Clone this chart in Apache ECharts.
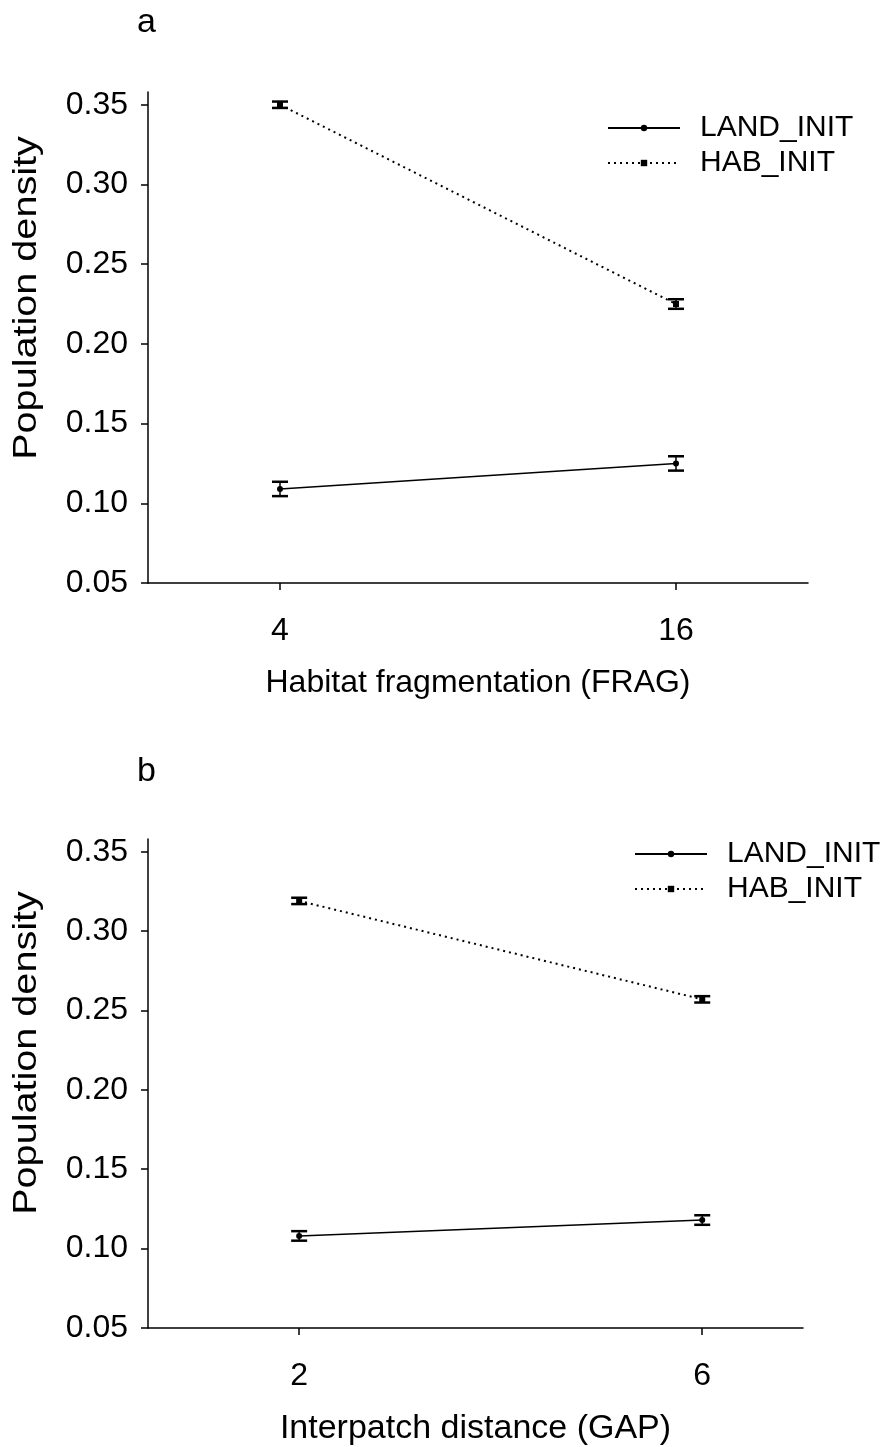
<!DOCTYPE html>
<html>
<head>
<meta charset="utf-8">
<script src="https://cdn.jsdelivr.net/npm/echarts/dist/echarts.min.js"></script>
<style>
  html, body { margin: 0; padding: 0; background: #fff; }
  #main { width: 892px; height: 1447px; }
</style>
</head>
<body>
<div id="main"></div>
<script>
// panel a : habitat fragmentation
var fragX = [4, 16];
var landA = [0.109, 0.125];
var landAErr = [0.0045, 0.0045];
var habA = [0.350, 0.225];
var habAErr = [0.002, 0.003];

// panel b : interpatch distance
var gapX = [2, 6];
var landB = [0.108, 0.118];
var landBErr = [0.003, 0.003];
var habB = [0.319, 0.257];
var habBErr = [0.002, 0.002];

var yTicks = [0.05, 0.10, 0.15, 0.20, 0.25, 0.30, 0.35];

var FONT = 'Liberation Sans, Arial, sans-serif';

function pts(xs, ys) {
  return xs.map(function (x, i) { return [x, ys[i]]; });
}
function errs(xs, ys, es) {
  return xs.map(function (x, i) { return [x, ys[i] - es[i], ys[i] + es[i]]; });
}

function errRender(params, api) {
  var x = api.value(0);
  var lo = api.coord([x, api.value(1)]);
  var hi = api.coord([x, api.value(2)]);
  var w = 8;
  var st = { stroke: '#000', lineWidth: 2.5 };
  return {
    type: 'group',
    children: [
      { type: 'line', shape: { x1: lo[0], y1: lo[1], x2: hi[0], y2: hi[1] }, style: { stroke: '#000', lineWidth: 1.5 } },
      { type: 'line', shape: { x1: lo[0] - w, y1: lo[1], x2: lo[0] + w, y2: lo[1] }, style: st },
      { type: 'line', shape: { x1: hi[0] - w, y1: hi[1], x2: hi[0] + w, y2: hi[1] }, style: st }
    ]
  };
}

function xAxisCfg(idx, min, max, ticks, name, nameSize) {
  return {
    gridIndex: idx, type: 'value', min: min, max: max,
    name: name, nameLocation: 'middle', nameGap: 84,
    nameTextStyle: { color: '#000', fontSize: nameSize, fontFamily: FONT },
    axisLine: { lineStyle: { color: '#000', width: 1.5 } },
    axisTick: { length: 7, customValues: ticks, lineStyle: { color: '#000', width: 1.5 } },
    axisLabel: { customValues: ticks, margin: 32, color: '#000', fontSize: 32, fontFamily: FONT },
    splitLine: { show: false }
  };
}
function yAxisCfg(idx) {
  return {
    gridIndex: idx, type: 'value', min: 0.05, max: 0.358,
    axisLine: { show: true, lineStyle: { color: '#000', width: 1.5 } },
    axisTick: { show: true, length: 7, customValues: yTicks, lineStyle: { color: '#000', width: 1.5 } },
    axisLabel: {
      customValues: yTicks, margin: 20, color: '#000', fontSize: 32, fontFamily: FONT,
      formatter: function (v) { return v.toFixed(2); }
    },
    splitLine: { show: false }
  };
}

function lineSeries(name, idx, data, sym, dotted) {
  return {
    name: name, type: 'line', xAxisIndex: idx, yAxisIndex: idx,
    data: data, symbol: sym, symbolSize: 6,
    itemStyle: { color: '#000' },
    lineStyle: { color: '#000', width: dotted ? 2 : 1.5, type: dotted ? [2, 4] : 'solid' },
    z: 3, animation: false
  };
}

function legendCfg(left, top) {
  return {
    orient: 'vertical', left: left, top: top, itemWidth: 72, itemHeight: 8, itemGap: 5,
    data: ['LAND_INIT', 'HAB_INIT'],
    textStyle: { color: '#000', fontSize: 30, fontFamily: FONT, padding: [0, 0, 0, 15] }
  };
}

function yTitle(y) {
  return {
    type: 'text', x: 27, y: y, rotation: Math.PI / 2, scaleX: 1.2,
    style: { text: 'Population density', fill: '#000', font: '33px ' + FONT, textAlign: 'center', textVerticalAlign: 'middle' }
  };
}

var chart = echarts.init(document.getElementById('main'));
chart.setOption({
  backgroundColor: '#fff',
  animation: false,
  title: [
    { text: 'a', left: 132, top: 1, textStyle: { fontSize: 34, fontWeight: 'normal', color: '#000', fontFamily: FONT } },
    { text: 'b', left: 132, top: 750, textStyle: { fontSize: 34, fontWeight: 'normal', color: '#000', fontFamily: FONT } }
  ],
  legend: [legendCfg(602, 108), legendCfg(629, 834)],
  grid: [
    { left: 148, top: 92, width: 660, height: 491 },
    { left: 148, top: 839, width: 655, height: 492 }
  ],
  xAxis: [
    xAxisCfg(0, 0, 20, fragX, 'Habitat fragmentation (FRAG)', 32),
    xAxisCfg(1, 0.5, 7, gapX, 'Interpatch distance (GAP)', 34)
  ],
  yAxis: [yAxisCfg(0), yAxisCfg(1)],
  graphic: [yTitle(298), yTitle(1053)],
  series: [
    { type: 'custom', xAxisIndex: 0, yAxisIndex: 0, renderItem: errRender, data: errs(fragX, landA, landAErr), z: 2 },
    { type: 'custom', xAxisIndex: 0, yAxisIndex: 0, renderItem: errRender, data: errs(fragX, habA, habAErr), z: 2 },
    { type: 'custom', xAxisIndex: 1, yAxisIndex: 1, renderItem: errRender, data: errs(gapX, landB, landBErr), z: 2 },
    { type: 'custom', xAxisIndex: 1, yAxisIndex: 1, renderItem: errRender, data: errs(gapX, habB, habBErr), z: 2 },
    lineSeries('LAND_INIT', 0, pts(fragX, landA), 'circle', false),
    lineSeries('HAB_INIT', 0, pts(fragX, habA), 'rect', true),
    lineSeries('LAND_INIT', 1, pts(gapX, landB), 'circle', false),
    lineSeries('HAB_INIT', 1, pts(gapX, habB), 'rect', true)
  ]
});
</script>
</body>
</html>
